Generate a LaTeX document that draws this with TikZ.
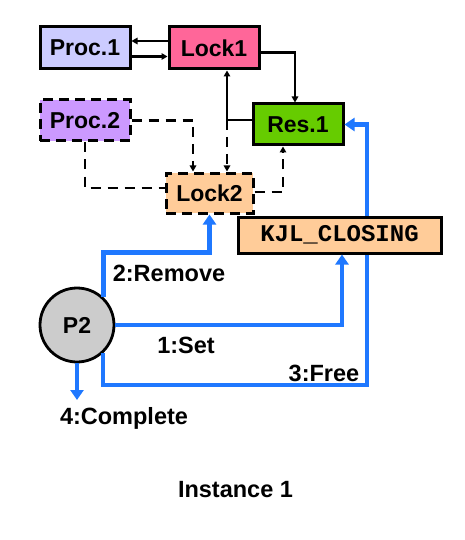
\documentclass[tikz,border=0pt]{standalone}
\usepackage{fontspec}
\setmainfont{Liberation Sans}
\setmonofont{Liberation Mono}
\usetikzlibrary{arrows.meta}
\definecolor{procone}{HTML}{CCCCFF}
\definecolor{proctwo}{HTML}{CC99FF}
\definecolor{lockone}{HTML}{FF6699}
\definecolor{locktwo}{HTML}{FFCC99}
\definecolor{resone}{HTML}{66CC00}
\definecolor{pgray}{HTML}{CCCCCC}
\definecolor{flowblue}{HTML}{1F78FF}

\begin{document}
\begin{tikzpicture}[x=1pt,y=-1pt,
		box/.style={draw,line width=3pt,minimum width=90pt,minimum height=42pt,inner sep=0pt,font=\fontsize{23}{27}\selectfont\bfseries},
		dbox/.style={box,dash pattern=on 10pt off 6pt},
		link/.style={line width=2.3pt,-{Triangle[length=6pt,width=6.5pt]}},
		dlink/.style={link,dash pattern=on 10pt off 7pt},
		flow/.style={draw=flowblue,line width=4.6pt,-{Triangle[length=10pt,width=13pt]}},
		lbl/.style={font=\fontsize{23.5}{28}\selectfont\bfseries}]
				\useasboundingbox (0,0) rectangle (465,540);
				\node[box,fill=procone] (proc1) at (85,48) {Proc.1};
				\node[box,fill=lockone] (lock1) at (214,48) {Lock1};
				\node[box,fill=resone,minimum height=41pt] (res1) at (298,124.5) {Res.1};
				\node[dbox,fill=proctwo,minimum height=41pt] (proc2) at (85,120.5) {Proc.2};
				\node[dbox,fill=locktwo,minimum width=87pt,minimum height=40pt] (lock2) at (209.5,193) {Lock2};
				\node[circle,draw,line width=2.8pt,fill=pgray,minimum size=74pt,inner sep=0pt,font=\fontsize{23}{27}\selectfont\bfseries] (p2) at (77,325) {P2};
				\coordinate (j) at (227,120);
				\coordinate (freec) at (367,385);
				\coordinate (done) at (77,400);
				\draw[flow] (p2.-47) |- (freec) |- (res1.east);
				\node[box,fill=locktwo,minimum width=203pt,minimum height=36pt,font=\fontsize{24}{28}\selectfont\ttfamily\bfseries] (kjl) at (339.5,235) {KJL\_CLOSING};
				\draw[link] ([yshift=7pt]lock1.west) -- ([yshift=7pt]proc1.east);
				\draw[link] ([yshift=-8.5pt]proc1.east) -- ([yshift=-8.5pt]lock1.west);
				\draw[link] ([yshift=-4.5pt]lock1.east) -| ([xshift=-3pt]res1.north);
				\draw[link] (res1.west |- j) -- (j) -- (lock1.south -| j);
				\draw[dlink] (j) -- (lock2.north -| j);
				\draw[dlink] (proc2.east) -| ([xshift=-16.5pt]lock2.north);
				\draw[dlink,-] (proc2.south) |- ([yshift=5pt]lock2.west);
				\draw[dlink] ([yshift=1pt]lock2.east) -| ([xshift=-15pt]res1.south);
				\draw[flow] (p2.46) |- ([yshift=-38pt]lock2.south) -- (lock2.south);
				\draw[flow] (p2.east) -| ([xshift=2.5pt]kjl.south);
				\draw[flow] (p2.south) -- (done);
				\node[lbl] (rm) at (169,273) {2:Remove};
				\node[lbl] (set) at (186,345) {1:Set};
				\node[lbl] (free) at (324,373) {3:Free};
				\node[lbl] (cmpl) at (124,418) {4:Complete};
				\node[lbl] (inst) at (235.5,490) {Instance 1};
			\end{tikzpicture}
\end{document}
